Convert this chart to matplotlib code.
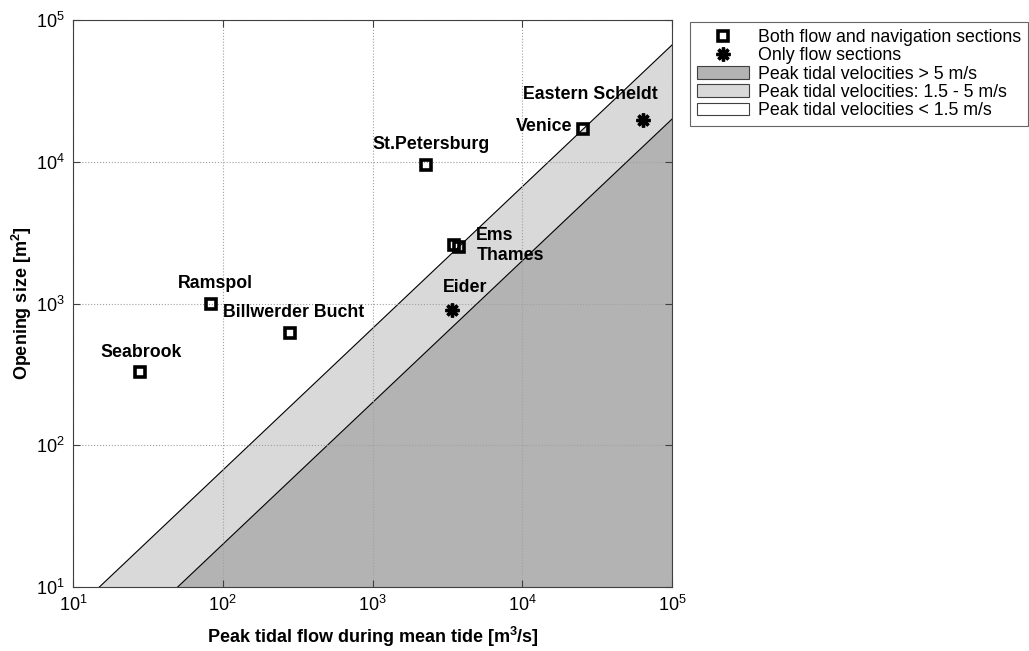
import numpy as np
import matplotlib
matplotlib.use("Agg")
import matplotlib.pyplot as plt
from matplotlib.lines import Line2D
from matplotlib.patches import Patch

plt.rcParams['font.family'] = ['Liberation Sans', 'DejaVu Sans']
plt.rcParams['mathtext.fontset'] = 'custom'
plt.rcParams['mathtext.rm'] = 'Liberation Sans'
plt.rcParams['mathtext.bf'] = 'Liberation Sans:bold'

# Data
sq_names = ["Seabrook", "Ramspol", "Billwerder Bucht", "St.Petersburg", "Ems", "Thames", "Venice"]
sq_flow = [28, 84, 280, 2290, 3500, 3800, 25500]
sq_area = [330, 1000, 623, 9500, 2600, 2500, 17100]

st_names = ["Eider", "Eastern Scheldt"]
st_flow = [3420, 64100]
st_area = [900, 19800]

vel_low = 1.5
vel_high = 5.0

legend_labels = ["Both flow and navigation sections", "Only flow sections",
                 "Peak tidal velocities > 5 m/s", "Peak tidal velocities: 1.5 - 5 m/s",
                 "Peak tidal velocities < 1.5 m/s"]

# label offsets in pixels (dx, dy) and horizontal alignment
label_style = {
    "Seabrook": (1, 19, "center"),
    "Ramspol": (4, 20, "center"),
    "Billwerder Bucht": (-67, 20, "left"),
    "St.Petersburg": (5, 20, "center"),
    "Ems": (22, 9, "left"),
    "Thames": (17, -8, "left"),
    "Venice": (-11, 2, "right"),
    "Eider": (13, 22, "center"),
    "Eastern Scheldt": (-53, 25, "center"),
}

W, H = 1029, 651
fig = plt.figure(figsize=(W / 100, H / 100), dpi=100)
ax = fig.add_axes([73 / W, 1 - 587 / H, (672 - 73) / W, (587 - 20) / H])

q = np.logspace(0, 6, 200)
ax.fill_between(q, q / vel_high, 1e-3, color="#b3b3b3", linewidth=0, zorder=0)
ax.fill_between(q, q / vel_low, q / vel_high, color="#d9d9d9", linewidth=0, zorder=0)
ax.plot(q, q / vel_low, color="black", linewidth=0.8, zorder=1)
ax.plot(q, q / vel_high, color="black", linewidth=0.8, zorder=1)

ax.set_xscale("log")
ax.set_yscale("log")
ax.set_xlim(10, 1e5)
ax.set_ylim(10, 1e5)
ax.grid(True, which="major", linestyle=":", color="#a0a0a0", linewidth=0.8)
ax.minorticks_off()
ax.tick_params(direction="in", length=5, labelsize=13, top=True, right=True, colors="#404040",
               labelcolor="black", pad=6)
for s in ax.spines.values():
    s.set_color("#404040")
    s.set_linewidth(0.8)

ax.plot(sq_flow, sq_area, linestyle="none", marker="s", markersize=7.2, markerfacecolor="none",
        markeredgecolor="black", markeredgewidth=2.6, zorder=3)
ax.plot(st_flow, st_area, linestyle="none", marker=(8, 2, 0), markersize=10,
        markeredgecolor="black", markeredgewidth=2.4, zorder=3)
ax.plot(st_flow, st_area, linestyle="none", marker="o", markersize=5.5,
        markeredgecolor="black", markerfacecolor="black", zorder=3)

for n, x, y in list(zip(sq_names, sq_flow, sq_area)) + list(zip(st_names, st_flow, st_area)):
    dx, dy, ha = label_style[n]
    ax.annotate(n, (x, y), xytext=(dx, dy), textcoords="offset pixels", ha=ha, va="center",
                fontsize=12.8, fontweight="bold", zorder=4)

fig.text(372.5 / W, 1 - 637 / H, r"Peak tidal flow during mean tide [m$^\mathbf{3}$/s]",
         fontsize=13, fontweight="bold", ha="center", va="center")
fig.text(22 / W, 1 - 303.5 / H, r"Opening size [m$^\mathbf{2}$]", rotation=90,
         fontsize=13, fontweight="bold", ha="center", va="center")

star_h = (Line2D([], [], linestyle="none", marker=(8, 2, 0), markersize=10,
                 markeredgecolor="black", markeredgewidth=2.4),
          Line2D([], [], linestyle="none", marker="o", markersize=5.5,
                 markeredgecolor="black", markerfacecolor="black"))
handles = [
    Line2D([], [], linestyle="none", marker="s", markersize=7.2, markerfacecolor="none",
           markeredgecolor="black", markeredgewidth=2.6),
    star_h,
    Patch(facecolor="#b3b3b3", edgecolor="#404040", linewidth=0.8),
    Patch(facecolor="#d9d9d9", edgecolor="#404040", linewidth=0.8),
    Patch(facecolor="white", edgecolor="#404040", linewidth=0.8),
]
leg = fig.legend(handles, legend_labels, loc="upper left",
                 bbox_to_anchor=(690 / W, 1 - 22 / H), fontsize=12.8, frameon=True,
                 fancybox=False, edgecolor="#404040", handlelength=2.9, handletextpad=0.5,
                 labelspacing=0.07, borderpad=0.4, borderaxespad=0)
leg.get_frame().set_linewidth(0.8)

fig.savefig("out.png", dpi=100)
